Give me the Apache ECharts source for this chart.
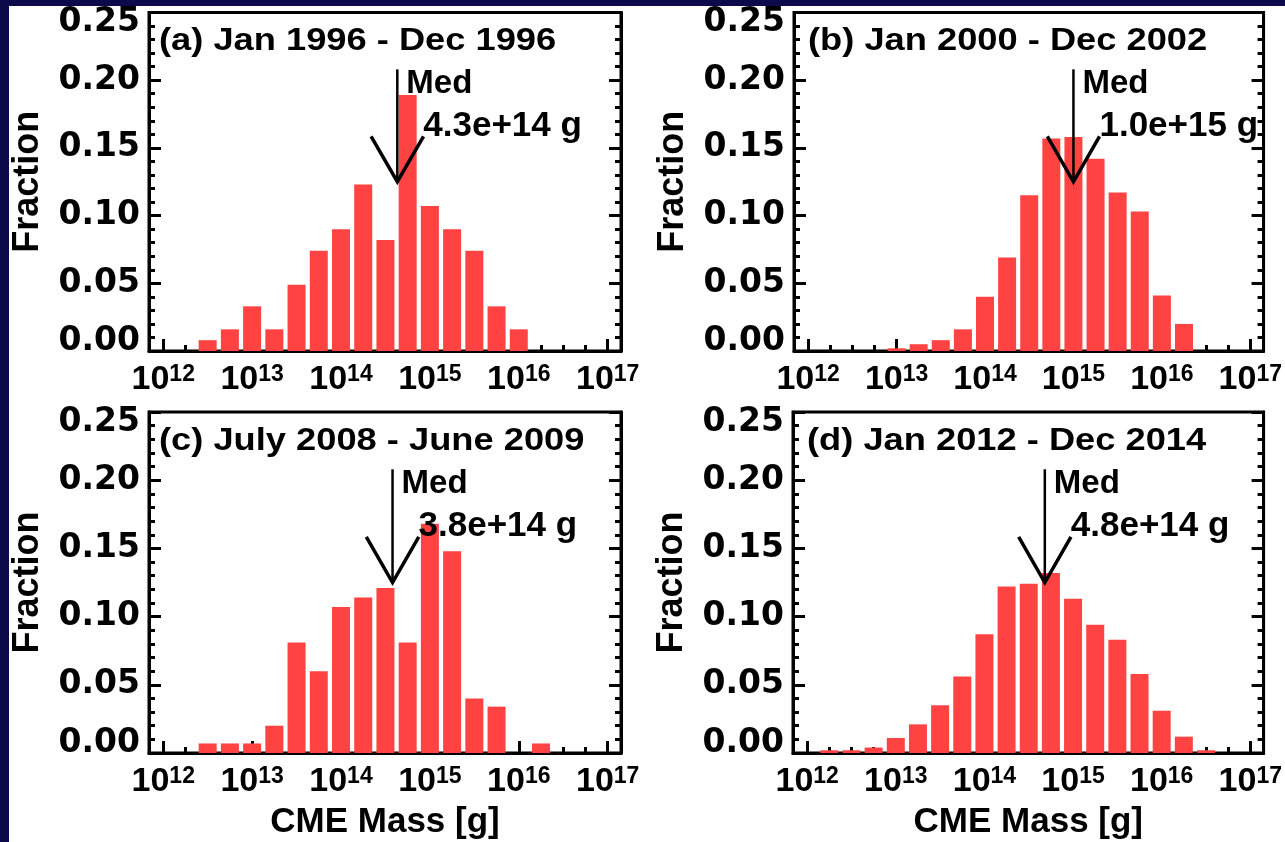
<!DOCTYPE html>
<html>
<head>
<meta charset="utf-8">
<script src="https://cdn.jsdelivr.net/npm/echarts@6/dist/echarts.min.js"></script>
<style>
  html, body { margin: 0; padding: 0; background: #0b0b4b; }
  #wrap { position: absolute; left: 0; top: 0; width: 1285px; height: 842px; background: #0b0b4b; overflow: hidden; }
  #chart { position: absolute; left: 9px; top: 6px; width: 1276px; height: 836px; background: #fff; }
</style>
</head>
<body>
<div id="wrap"><div id="chart"></div></div>
<script>
// log10 of CME mass, bin centres (0.25 dex bins)
const binsA = [12.5, 12.75, 13.0, 13.25, 13.5, 13.75, 14.0, 14.25, 14.5, 14.75, 15.0, 15.25, 15.5, 15.75, 16.0];
const fracA = [0.008, 0.016, 0.033, 0.016, 0.049, 0.074, 0.090, 0.123, 0.082, 0.189, 0.107, 0.090, 0.074, 0.033, 0.016];

const binsB = [13.0, 13.25, 13.5, 13.75, 14.0, 14.25, 14.5, 14.75, 15.0, 15.25, 15.5, 15.75, 16.0, 16.25];
const fracB = [0.002, 0.005, 0.008, 0.016, 0.040, 0.069, 0.115, 0.157, 0.158, 0.142, 0.117, 0.103, 0.041, 0.020];

const binsC = [12.5, 12.75, 13.0, 13.25, 13.5, 13.75, 14.0, 14.25, 14.5, 14.75, 15.0, 15.25, 15.5, 15.75, 16.25];
const fracC = [0.007, 0.007, 0.007, 0.020, 0.081, 0.060, 0.107, 0.114, 0.121, 0.081, 0.168, 0.148, 0.040, 0.034, 0.007];

const binsD = [12.25, 12.5, 12.75, 13.0, 13.25, 13.5, 13.75, 14.0, 14.25, 14.5, 14.75, 15.0, 15.25, 15.5, 15.75, 16.0, 16.25, 16.5];
const fracD = [0.002, 0.002, 0.004, 0.011, 0.021, 0.035, 0.056, 0.087, 0.122, 0.124, 0.132, 0.113, 0.094, 0.083, 0.058, 0.031, 0.012, 0.002];

const medians = [4.3e14, 1.0e15, 3.8e14, 4.8e14];
const titles = ['(a) Jan 1996 - Dec 1996', '(b) Jan 2000 - Dec 2002', '(c) July 2008 - June 2009', '(d) Jan 2012 - Dec 2014'];

const majorTicks = [12, 13, 14, 15, 16, 17];
const minorTicks = [12.25, 12.5, 12.75, 13.25, 13.5, 13.75, 14.25, 14.5, 14.75,
                    15.25, 15.5, 15.75, 16.25, 16.5, 16.75];

const panels = [
  { bins: binsA, frac: fracA },
  { bins: binsB, frac: fracB },
  { bins: binsC, frac: fracC },
  { bins: binsD, frac: fracD }
];

// layout (page pixels), chart div sits at (9, 6)
const OX = 9, OY = 6;
const boxes = [[145, 12, 476, 339], [794, 12, 476, 339], [145, 412, 476, 341], [793, 412, 476, 341]];
const FONT = '"Liberation Sans", Arial, Helvetica, sans-serif';
const NUMFONT = '"DejaVu Sans", "Liberation Sans", sans-serif';
const RED = '#ff4343';

const chart = echarts.init(document.getElementById('chart'));

const grid = [], xAxis = [], yAxis = [], series = [], graphic = [];

panels.forEach((p, i) => {
  const [gx, gy, gw, gh] = boxes[i];
  grid.push({ left: gx - OX, top: gy - OY, width: gw, height: gh, show: true,
              borderColor: '#000', borderWidth: 3, backgroundColor: 'transparent' });

  const bottomRow = i >= 2;
  xAxis.push({
    type: 'value', gridIndex: i, position: 'bottom', min: 11.84, max: 17.15,
    axisLine: { show: true, onZero: false, lineStyle: { color: '#000', width: 3 } },
    axisTick: { show: true, inside: true, length: 12, customValues: majorTicks,
                lineStyle: { color: '#000', width: 3 } },
    splitLine: { show: false },
    axisLabel: {
      customValues: majorTicks, margin: 12,
      formatter: v => '{b|10}{s|' + v + '}',
      rich: {
        b: { fontSize: 34, fontWeight: 'bold', fontFamily: FONT, color: '#000' },
        s: { fontSize: 23, fontWeight: 'bold', fontFamily: FONT, color: '#000', verticalAlign: 'top' }
      }
    },
    name: bottomRow ? 'CME Mass [g]' : '',
    nameLocation: 'middle', nameGap: 52,
    nameTextStyle: { fontSize: 35, fontWeight: 'bold', fontFamily: FONT, color: '#000' }
  });
  xAxis.push({
    type: 'value', gridIndex: i, position: 'bottom', min: 11.84, max: 17.15,
    axisLine: { show: false, onZero: false },
    axisTick: { show: true, inside: true, length: 6, customValues: minorTicks,
                lineStyle: { color: '#000', width: 3 } },
    axisLabel: { show: false },
    splitLine: { show: false }
  });

  yAxis.push({
    type: 'value', gridIndex: i, position: 'left', min: 0, max: 0.25, interval: 0.05,
    axisLine: { show: true, onZero: false, lineStyle: { color: '#000', width: 3 } },
    axisTick: { show: true, inside: true, length: 12, lineStyle: { color: '#000', width: 3 } },
    minorTick: { show: true, splitNumber: 5, length: 6, lineStyle: { color: '#000', width: 3 } },
    splitLine: { show: false },
    axisLabel: {
      margin: 9, fontSize: 33, fontWeight: 'bold', fontFamily: NUMFONT, color: '#000',
      lineHeight: 20,
      verticalAlignMinLabel: 'bottom', verticalAlignMaxLabel: 'top',
      formatter: v => v.toFixed(2)
    },
    name: 'Fraction', nameLocation: 'middle', nameGap: 103,
    nameTextStyle: { fontSize: 36, fontWeight: 'bold', fontFamily: FONT, color: '#000' }
  });
  yAxis.push({
    type: 'value', gridIndex: i, position: 'right', min: 0, max: 0.25, interval: 0.05,
    axisLine: { show: true, onZero: false, lineStyle: { color: '#000', width: 3 } },
    axisTick: { show: true, inside: true, length: 12, lineStyle: { color: '#000', width: 3 } },
    minorTick: { show: true, splitNumber: 5, length: 6, lineStyle: { color: '#000', width: 3 } },
    splitLine: { show: false },
    axisLabel: { show: false }
  });

  series.push({
    type: 'bar', xAxisIndex: 2 * i, yAxisIndex: 2 * i,
    barWidth: 18, itemStyle: { color: RED },
    data: p.bins.map((b, j) => [b, p.frac[j]]),
    z: 1
  });

  const medLabel = medians[i].toExponential(1) + ' g';
  series.push({
    type: 'custom', xAxisIndex: 2 * i, yAxisIndex: 2 * i, z: 5,
    data: [[Math.log10(medians[i])]],
    renderItem: (params, api) => {
      const x = api.value(0);
      const top = api.coord([x, 0.208]);
      const tip = api.coord([x, 0.125]);
      const wl = api.coord([x - 0.295, 0.1585]);
      const wr = api.coord([x + 0.295, 0.1585]);
      const txt = { fontWeight: 'bold', fontFamily: FONT, fill: '#000', verticalAlign: 'middle', align: 'left' };
      return {
        type: 'group',
        children: [
          { type: 'line', shape: { x1: top[0], y1: top[1], x2: tip[0], y2: tip[1] },
            style: { stroke: '#000', lineWidth: 2.5 } },
          { type: 'polyline', shape: { points: [wl, tip, wr] },
            style: { stroke: '#000', lineWidth: 3.5, fill: null } },
          { type: 'text', x: top[0] + 9, y: top[1] + 15,
            style: Object.assign({ text: 'Med', fontSize: 33 }, txt) },
          { type: 'text', x: top[0] + 26, y: top[1] + 57,
            style: Object.assign({ text: medLabel, fontSize: 35 }, txt) }
        ]
      };
    }
  });

  graphic.push({
    type: 'text', x: gx + 14 - OX, y: gy + 29 - OY, scaleX: 1.17, z: 10,
    style: { text: titles[i], fontSize: 31, fontWeight: 'bold', fontFamily: FONT,
             fill: '#000', verticalAlign: 'middle', align: 'left' }
  });
});

chart.setOption({
  animation: false,
  backgroundColor: '#fff',
  grid, xAxis, yAxis, series, graphic
});
</script>
</body>
</html>
